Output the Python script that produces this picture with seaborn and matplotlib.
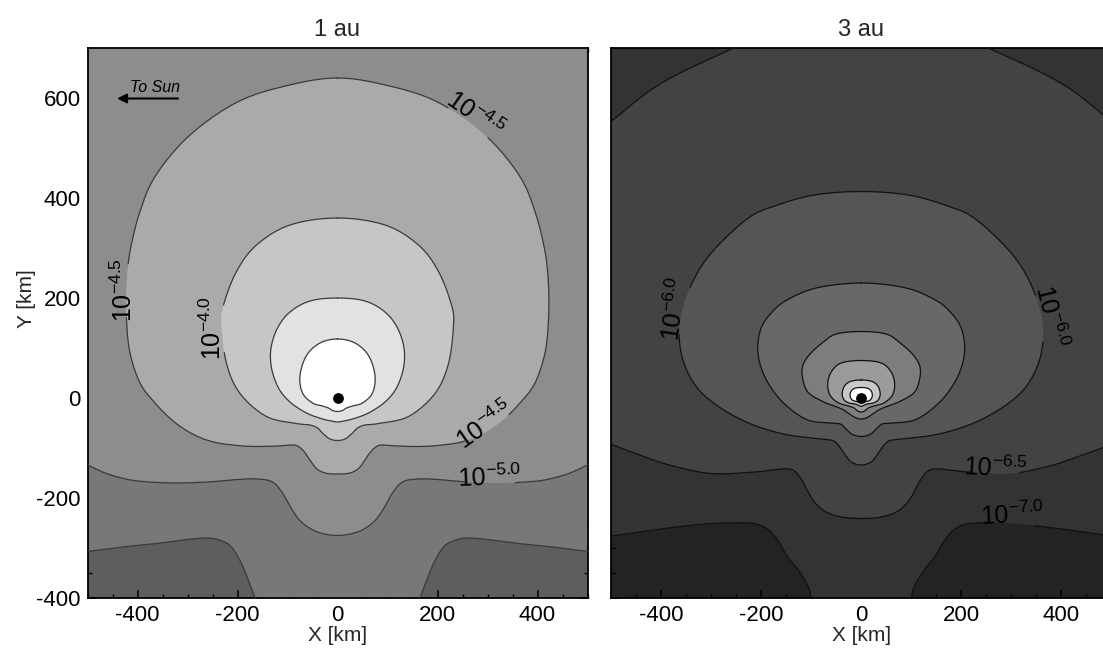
import numpy as np
import matplotlib
matplotlib.use("Agg")
import matplotlib.pyplot as plt
from matplotlib.ticker import MultipleLocator
import seaborn as sns

# ---------------- data (km; right half x>=0, mirrored) -------------
# 1 au panel : contour boundaries of log10(density)
AU1_M55_X = [154, 165, 180, 195, 215, 240, 262, 300, 362, 430, 500]
AU1_M55_Y = [-430, -400, -360, -325, -295, -283, -280, -283, -291, -298, -307]
AU1_M50_X = [0, 40, 70, 90, 110, 130, 160, 200, 260, 330, 400, 440, 470, 500]
AU1_M50_Y = [-275, -268, -250, -225, -190, -168, -162, -163, -168, -170, -166, -158, -148, -134]
AU1_M45_X = [0, 100, 200, 295, 363, 395, 415, 422, 422, 415, 395, 365, 330, 290, 248, 200, 162,
             120, 90, 78, 66, 55, 45, 35, 20, 0]
AU1_M45_Y = [640, 625, 592, 526, 446, 373, 293, 226, 156, 90, 30, -10, -45, -72, -88, -95, -97,
             -96, -94, -97, -108, -124, -138, -146, -151, -152]
AU1_M40_X = [0, 95, 162, 202, 228, 232, 222, 195, 142, 82, 55, 40, 28, 15, 0]
AU1_M40_Y = [360, 346, 306, 253, 186, 146, 69, 9, -37, -51, -54, -60, -72, -82, -85]
AU1_M35_X = [0, 55, 95, 120, 133, 132, 118, 95, 62, 30, 12, 0]
AU1_M35_Y = [200, 194, 172, 140, 100, 60, 20, -8, -30, -42, -46, -48]
AU1_M30_X = [0, 35, 62, 75, 70, 50, 30, 18, 10, 0]
AU1_M30_Y = [118, 110, 85, 45, 10, -10, -16, -20, -25, -27]

# 3 au panel
AU3_M70_X = [92, 100, 106, 125, 147, 170, 194, 227, 300, 361, 430, 500]
AU3_M70_Y = [-430, -400, -377, -345, -318, -280, -258, -250, -251, -257, -266, -276]
AU3_M65_X = [0, 130, 254, 394, 484, 540, 575, 580, 560, 500, 440, 380, 300, 213, 160, 135,
             118, 105, 90, 70, 40, 0]
AU3_M65_Y = [775, 752, 700, 633, 566, 510, 400, 100, -60, -92, -115, -135, -151, -148, -142,
             -145, -165, -190, -212, -228, -238, -241]
AU3_M60_X = [0, 94, 170, 227, 300, 340, 362, 360, 335, 294, 230, 160, 100, 70, 55, 45, 34, 20, 0]
AU3_M60_Y = [413, 406, 385, 359, 290, 226, 156, 89, 30, -11, -48, -71, -80, -83, -86, -95, -111,
             -128, -134]
AU3_M55_X = [0, 90, 150, 180, 200, 207, 200, 180, 150, 107, 60, 42, 32, 22, 12, 0]
AU3_M55_Y = [230, 220, 195, 170, 140, 100, 60, 20, -15, -44, -50, -52, -60, -70, -75, -77]
AU3_M50_X = [0, 50, 78, 105, 118, 115, 104, 75, 51, 35, 22, 10, 0]
AU3_M50_Y = [133, 128, 110, 85, 60, 30, 9, -8, -17, -24, -33, -40, -42]
AU3_M45_X = [0, 40, 60, 67, 62, 45, 25, 14, 7, 0]
AU3_M45_Y = [75, 70, 52, 28, 5, -10, -16, -20, -26, -28]
AU3_M40_X = [0, 22, 34, 38, 34, 24, 12, 5, 0]
AU3_M40_Y = [36, 33, 23, 8, -4, -10, -12, -15, -17]
AU3_M35_X = [0, 14, 21, 22, 18, 10, 4, 0]
AU3_M35_Y = [21, 19, 12, 3, -4, -7, -8, -10]

# contour labels: (level, x, y, rotation)
AU1_LABELS = [("-4.5", -428, 215, 90), ("-4.0", -249, 140, 90), ("-4.5", 275, 566, -35),
              ("-4.5", 295, -54, 35), ("-5.0", 305, -160, 2)]
AU3_LABELS = [("-6.0", -372, 178, 82), ("-6.0", 378, 162, -76), ("-6.5", 268, -140, -3),
              ("-7.0", 302, -234, 3)]

NUCLEUS_X = [0]
NUCLEUS_Y = [0]
PANEL_TITLES = ["1 au", "3 au"]

# ---------------- style ----------------
sns.set_theme(style="ticks")
plt.rcParams.update({
    "font.family": ["Liberation Sans", "DejaVu Sans"],
    "mathtext.fontset": "custom",
    "mathtext.rm": "Liberation Sans",
    "mathtext.it": "Liberation Sans:italic",
    "mathtext.bf": "Liberation Sans:bold",
    "mathtext.default": "regular",
    "axes.unicode_minus": False,
    "axes.linewidth": 1.3,
    "axes.edgecolor": "black",
    "xtick.direction": "in", "ytick.direction": "in",
    "xtick.top": True, "ytick.right": True,
    "xtick.major.size": 6, "ytick.major.size": 6,
    "xtick.minor.size": 3, "ytick.minor.size": 3,
    "xtick.major.width": 1.1, "ytick.major.width": 1.1,
    "xtick.minor.width": 1.0, "ytick.minor.width": 1.0,
    "xtick.color": "black", "ytick.color": "black",
    "xtick.labelsize": 16, "ytick.labelsize": 16,
})


def smooth(x, y, closed, n=14):
    P = np.column_stack([np.asarray(x, float), np.asarray(y, float)])
    keep = np.r_[True, np.any(np.abs(np.diff(P, axis=0)) > 1e-9, axis=1)]
    P = P[keep]
    if closed:
        if np.allclose(P[0], P[-1]):
            P = P[:-1]
        E = np.vstack([P[-1], P, P[0], P[1]])
        m = len(P)
    else:
        E = np.vstack([2 * P[0] - P[1], P, 2 * P[-1] - P[-2]])
        m = len(P) - 1
    t = np.linspace(0, 1, n, endpoint=False)[:, None]
    out = []
    for i in range(m):
        p0, p1, p2, p3 = E[i], E[i + 1], E[i + 2], E[i + 3]
        out.append(0.5 * (2 * p1 + (-p0 + p2) * t + (2 * p0 - 5 * p1 + 4 * p2 - p3) * t ** 2
                          + (-p0 + 3 * p1 - 3 * p2 + p3) * t ** 3))
    out.append(P[:1] if closed else P[-1:])
    S = np.vstack(out)
    return S[:, 0], S[:, 1]


def full_closed(hx, hy):
    x = list(hx) + [-v for v in hx[::-1]]
    y = list(hy) + list(hy[::-1])
    return smooth(x, y, True)


def full_open(hx, hy):
    x = [-v for v in hx[::-1]] + list(hx)
    y = list(hy[::-1]) + list(hy)
    sx, sy = smooth(x, y, False)
    sx = np.r_[sx[0] - 60, sx, sx[-1] + 60]
    sy = np.r_[sy[0], sy, sy[-1]]
    return sx, sy


def draw_panel(ax, curves, base, labels, linecolor):
    ax.set_facecolor(base)
    for z, (lev, hx, hy, kind, col) in enumerate(curves):
        if kind == "open":
            x, y = full_open(hx, hy)
            px = np.r_[x, x[-1], x[0]]
            py = np.r_[y, 900, 900]
        else:
            x, y = full_closed(hx, hy)
            px, py = x, y
        ax.fill(px, py, color=col, lw=0, zorder=1 + z * 0.01)
        # line with gaps where labels sit
        lx, ly = x.copy(), y.copy()
        for (llev, cx, cy, rot) in labels:
            if llev == lev:
                d = np.hypot(lx - cx, ly - cy)
                lx = np.where(d < 50, np.nan, lx)
        ax.plot(lx, ly, color=linecolor, lw=0.9, zorder=3)
    for (lev, cx, cy, rot) in labels:
        ax.text(cx, cy, r"$10^{%s}$" % lev, rotation=rot, ha="center", va="center",
                rotation_mode="anchor", fontsize=18, color="black", zorder=5)
    sns.scatterplot(x=NUCLEUS_X, y=NUCLEUS_Y, ax=ax, color="black", s=60,
                    linewidth=0, legend=False, zorder=6)


fig = plt.figure(figsize=(11.03, 6.52), dpi=100)
W, H = 1103.0, 652.0
ax1 = fig.add_axes([87.5 / W, (H - 598) / H, 500 / W, 550 / H])
ax2 = fig.add_axes([611.2 / W, (H - 598) / H, 500 / W, 550 / H])

curves1 = [
    ("-5.5", AU1_M55_X, AU1_M55_Y, "open", "#787878"),
    ("-5.0", AU1_M50_X, AU1_M50_Y, "open", "#8d8d8d"),
    ("-4.5", AU1_M45_X, AU1_M45_Y, "closed", "#aaaaaa"),
    ("-4.0", AU1_M40_X, AU1_M40_Y, "closed", "#c6c6c6"),
    ("-3.5", AU1_M35_X, AU1_M35_Y, "closed", "#e2e2e2"),
    ("-3.0", AU1_M30_X, AU1_M30_Y, "closed", "#ffffff"),
]
curves3 = [
    ("-7.0", AU3_M70_X, AU3_M70_Y, "open", "#333333"),
    ("-6.5", AU3_M65_X, AU3_M65_Y, "closed", "#434343"),
    ("-6.0", AU3_M60_X, AU3_M60_Y, "closed", "#555555"),
    ("-5.5", AU3_M55_X, AU3_M55_Y, "closed", "#686868"),
    ("-5.0", AU3_M50_X, AU3_M50_Y, "closed", "#7d7d7d"),
    ("-4.5", AU3_M45_X, AU3_M45_Y, "closed", "#9b9b9b"),
    ("-4.0", AU3_M40_X, AU3_M40_Y, "closed", "#c8c8c8"),
    ("-3.5", AU3_M35_X, AU3_M35_Y, "closed", "#ffffff"),
]

draw_panel(ax1, curves1, "#5e5e5e", AU1_LABELS, "#3a3a3a")
draw_panel(ax2, curves3, "#232323", AU3_LABELS, "#111111")

for ax, title in zip([ax1, ax2], PANEL_TITLES):
    ax.set_xlim(-500, 500)
    ax.set_ylim(-400, 700)
    ax.set_xticks([-400, -200, 0, 200, 400])
    ax.set_yticks([-400, -200, 0, 200, 400, 600])
    ax.xaxis.set_minor_locator(MultipleLocator(50))
    ax.yaxis.set_minor_locator(MultipleLocator(50))
    ax.tick_params(axis="x", which="both", pad=5)
    ax.tick_params(axis="y", which="both", pad=5)
    ax.set_title(title, fontsize=17, pad=9)
    ax.set_xlabel("X [km]", fontsize=15, labelpad=0)
    for s in ax.spines.values():
        s.set_visible(True)
        s.set_color("black")
    ax.set_aspect("auto")

ax1.set_ylabel("Y [km]", fontsize=15)
ax1.yaxis.set_label_coords(-0.104, 0.545)
ax2.tick_params(axis="y", which="both", labelleft=False)

# "To Sun" arrow
ax1.annotate("", xy=(-441, 599), xytext=(-319, 599),
             arrowprops=dict(arrowstyle="-|>", color="black", lw=1.5, mutation_scale=14,
                             shrinkA=0, shrinkB=0), zorder=7)
ax1.text(-365, 621, "To Sun", fontsize=11.5, style="italic", ha="center", va="center",
         color="black", zorder=7)

fig.savefig("out.png", dpi=100)
